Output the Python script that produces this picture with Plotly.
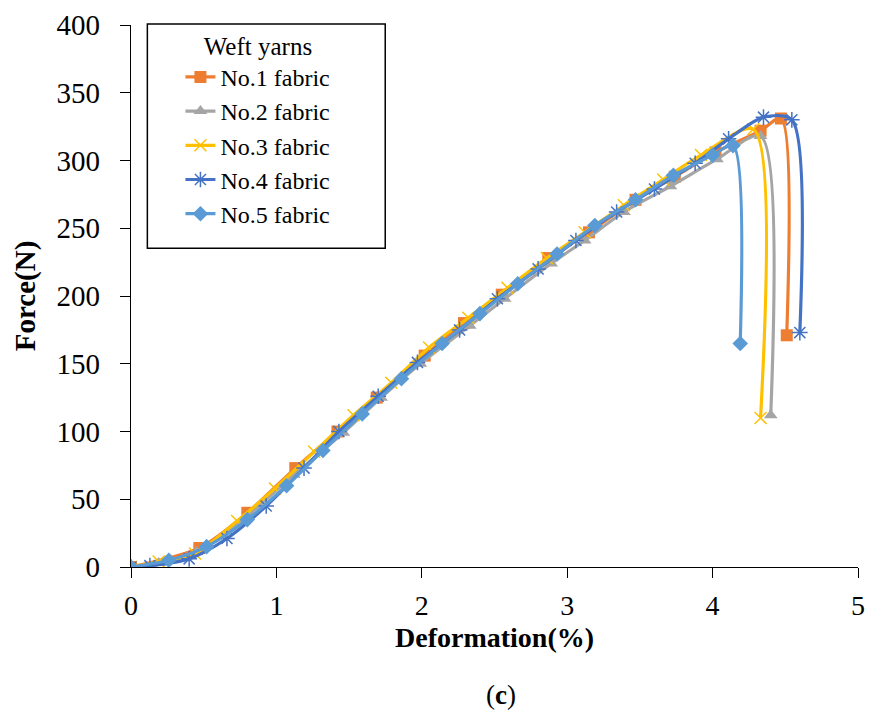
import plotly.graph_objects as go

# ---- data ----
names = ["No.1 fabric", "No.2 fabric", "No.3 fabric", "No.4 fabric", "No.5 fabric"]

x1 = [0, 0.47, 0.80, 1.13, 1.42, 1.69, 2.02, 2.29, 2.55, 2.87, 3.15, 3.47, 3.74, 4.02, 4.33, 4.47, 4.51]
y1 = [0, 14, 40, 73, 100, 125, 156, 180, 201, 228, 247, 271, 288, 306, 322, 331, 171]

x2 = [0, 0.19, 0.45, 0.78, 1.12, 1.46, 1.72, 1.99, 2.33, 2.57, 2.89, 3.12, 3.39, 3.71, 4.03, 4.33, 4.40]
y2 = [0, 3, 11, 36, 68, 99, 125, 150, 178, 198, 224, 241, 262, 281, 301, 318, 112]

x3 = [0, 0.19, 0.44, 0.73, 0.99, 1.26, 1.53, 1.79, 2.05, 2.32, 2.59, 2.86, 3.12, 3.39, 3.66, 3.92, 4.28, 4.33]
y3 = [0, 4, 10, 34, 58, 85, 112, 136, 162, 184, 206, 228, 247, 267, 286, 304, 323, 110]

x4 = [0, 0.13, 0.40, 0.66, 0.93, 1.19, 1.43, 1.70, 1.97, 2.26, 2.52, 2.80, 3.06, 3.34, 3.60, 3.88, 4.11, 4.35, 4.545, 4.60]
y4 = [0, 1, 6, 21, 45, 73, 100, 126, 151, 175, 198, 220, 241, 262, 279, 298, 316, 332, 330, 173]

x5 = [0, 0.26, 0.52, 0.80, 1.07, 1.32, 1.59, 1.86, 2.14, 2.40, 2.66, 2.93, 3.19, 3.47, 3.73, 4.00, 4.14, 4.19]
y5 = [0, 5, 15, 35, 60, 86, 113, 139, 165, 187, 209, 231, 252, 271, 289, 304, 311, 165]

xs = [x1, x2, x3, x4, x5]
ys = [y1, y2, y3, y4, y5]

x_ticks = [0, 1, 2, 3, 4, 5]
y_ticks = [0, 50, 100, 150, 200, 250, 300, 350, 400]

colors = ["#ED7D31", "#A5A5A5", "#FFC000", "#4472C4", "#5B9BD5"]
symbols = ["square", "triangle-up", "x-thin", "asterisk-open", "diamond"]
msizes = [12, 12, 12, 13, 12]

FONT = "Liberation Serif"

fig = go.Figure()
for i in range(5):
    if symbols[i] in ("x-thin", "asterisk-open"):
        marker = dict(symbol=symbols[i], size=msizes[i], color=colors[i],
                      line=dict(color=colors[i], width=1.5))
    else:
        marker = dict(symbol=symbols[i], size=msizes[i], color=colors[i],
                      line=dict(width=0))
    fig.add_trace(go.Scatter(
        x=xs[i], y=ys[i], name=names[i], mode="lines+markers",
        line=dict(color=colors[i], width=3.2, shape="spline", smoothing=0.8),
        marker=marker,
    ))

fig.update_layout(
    width=873, height=722,
    margin=dict(l=131, r=8, t=25, b=155),
    plot_bgcolor="white", paper_bgcolor="white",
    font=dict(family=FONT, size=29, color="black"),
    showlegend=True,
    legend=dict(
        x=0.068, y=1.005, xanchor="left", yanchor="top",
        borderwidth=0, bgcolor="rgba(0,0,0,0)",
        font=dict(family=FONT, size=24, color="black"),
        title=dict(text="Weft yarns", side="top center",
                   font=dict(family=FONT, size=25, color="black")),
        tracegroupgap=0,
    ),
    shapes=[dict(
        type="rect", xref="paper", yref="paper",
        x0=0.0225, x1=0.3497, y0=0.588, y1=1.0018,
        line=dict(color="black", width=1.5), fillcolor="rgba(0,0,0,0)",
    )],
    xaxis=dict(
        range=[0, 5], tickvals=x_ticks, ticktext=[str(v) for v in x_ticks],
        showline=True, linecolor="black", linewidth=1.3,
        ticks="outside", ticklen=10, tickcolor="black", tickwidth=1.3,
        ticklabelstandoff=3,
        showgrid=False, zeroline=False,
        tickfont=dict(family=FONT, size=28),
    ),
    yaxis=dict(
        range=[0, 400], tickvals=y_ticks, ticktext=[str(v) for v in y_ticks],
        showline=True, linecolor="black", linewidth=1.3,
        ticks="outside", ticklen=10, tickcolor="black", tickwidth=1.3,
        ticklabelstandoff=14,
        showgrid=False, zeroline=False,
        tickfont=dict(family=FONT, size=29),
        title=dict(text="<b>Force(N)</b>", standoff=12,
                   font=dict(family=FONT, size=29)),
    ),
    annotations=[
        dict(text="<b>Deformation(%)</b>", xref="paper", yref="paper",
             x=0.5, y=-0.13, xanchor="center", yanchor="middle",
             showarrow=False, font=dict(family=FONT, size=28, color="black")),
        dict(text="(<b>c</b>)", xref="paper", yref="paper", x=0.509, y=-0.236,
             xanchor="center", yanchor="middle", showarrow=False,
             font=dict(family=FONT, size=27, color="black")),
    ],
)

fig.write_html("out.html")
